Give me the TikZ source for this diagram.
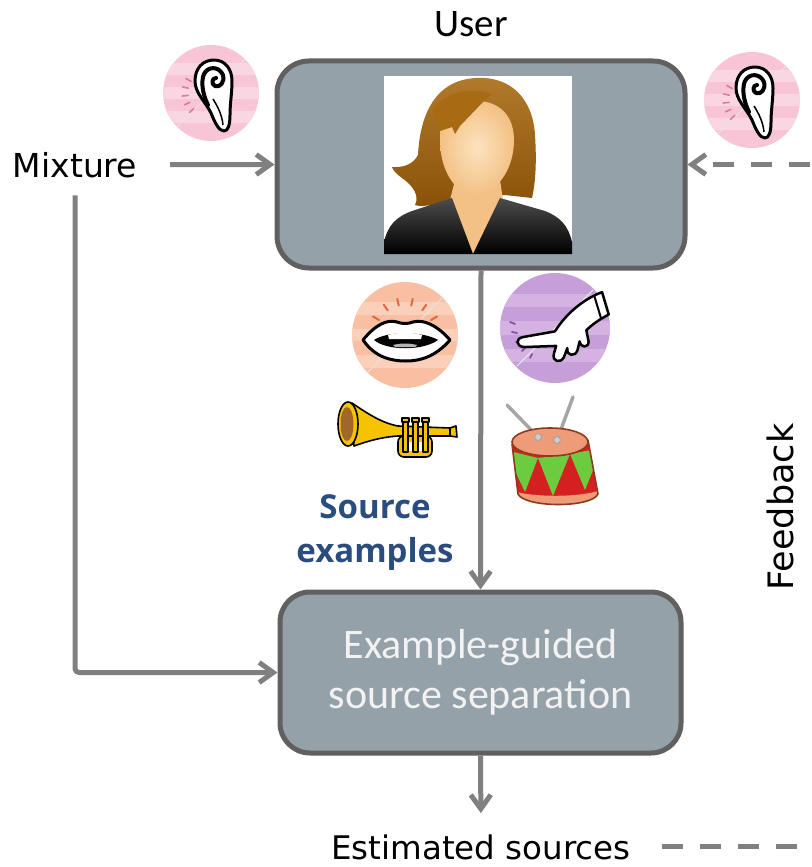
\documentclass[tikz,border=0pt]{standalone}
\usepackage{fontspec}
\setmainfont{DejaVu Sans}
\newfontfamily\carlito{Carlito}
\newfontfamily\opensans{Open Sans}
\usetikzlibrary{arrows.meta}

\definecolor{boxfill}{HTML}{95A1A9}
\definecolor{boxline}{HTML}{606060}
\definecolor{agray}{HTML}{808080}
\definecolor{srcblue}{HTML}{2A4D7D}
\definecolor{earpink}{HTML}{F7C5D5}
\definecolor{earband}{HTML}{FAD6E2}
\definecolor{earray}{HTML}{E07A98}
\definecolor{mouthpeach}{HTML}{F8BFA2}
\definecolor{mouthband}{HTML}{FBD0BA}
\definecolor{mouthray}{HTML}{E4683C}
\definecolor{handlilac}{HTML}{C79FD8}
\definecolor{handband}{HTML}{D4B2E2}
\definecolor{handray}{HTML}{8E4FA6}
\definecolor{brass}{HTML}{F5C300}
\definecolor{bellbrown}{HTML}{A0662A}
\definecolor{drumred}{HTML}{D42020}
\definecolor{drumgreen}{HTML}{6CCB3E}
\definecolor{drumskin}{HTML}{EE9C78}
\definecolor{drumedge}{HTML}{8E3A1E}
\definecolor{hair}{HTML}{A86B14}
\definecolor{hairdark}{HTML}{8A5208}
\definecolor{skin}{HTML}{F3C185}
\definecolor{skinlight}{HTML}{FCE3BF}

% round badge at the local origin, with soft horizontal bands
\newcommand\badge[3]{% radius (number), base colour, band colour
  \fill[#2] (0,0) circle[radius=#1pt];
  \begin{scope}
    \clip (0,0) circle[radius=#1pt];
    \foreach \dy in {-0.62,-0.12,0.38}{
      \fill[#3] (-#1,\dy*#1) rectangle (#1,\dy*#1+0.24*#1);
    }
  \end{scope}}

% listening ear on a pink badge
\newcommand\earicon[1]{%
  \begin{scope}[shift={#1}]
    \badge{48}{earpink}{earband}
    \draw[white!80!gray, line width=0.8pt] (-34,34) -- (34,-34);
    \foreach \a in {-150,-168,174,156,138}{
      \draw[earray, line width=1.6pt, line cap=round] (\a:23) -- (\a:29);
    }
    \filldraw[fill=white, draw=black, line width=3pt]
      (3,-33) .. controls (14,-33) and (21,-24) .. (21,-12)
      .. controls (21,0) and (19,10) .. (19,22)
      .. controls (19,32) and (17,38) .. (13,38)
      .. controls (8,38) and (4,30) .. (0,20)
      .. controls (-6,8) and (-16,0) .. (-16,-12)
      .. controls (-16,-25) and (-8,-33) .. (3,-33) -- cycle;
    \draw[black, line width=4pt, line cap=round]
      (-3,12) .. controls (-9,0) and (-10,-12) .. (-7,-19)
      .. controls (-3,-27) and (8,-27) .. (12,-18)
      .. controls (14,-11) and (9,-5) .. (4,-7)
      .. controls (0,-9) and (1,-15) .. (5,-15);
    \draw[black, line width=1.5pt] (2,6) .. controls (7,14) and (11,22) .. (12,32);
  \end{scope}}

\begin{document}
\begin{tikzpicture}[x=1pt, y=-1pt, line join=round,
  blockbox/.style={draw=boxline, line width=5pt, fill=boxfill, inner sep=0pt},
  arr/.style={draw=agray, line width=5pt, -{Straight Barb[length=14pt,width=20pt]}},
  fbline/.style={draw=agray, line width=5pt, dash pattern=on 21pt off 17pt,
                 -{Straight Barb[length=14pt,width=20pt]}},
  plain/.style={inner sep=0pt}]
\useasboundingbox (0,0) rectangle (811,867);

% ---------- blocks ----------
\node[blockbox, rounded corners=32pt, minimum width=408pt, minimum height=207pt]
  (user) at (481,164.5) {};
\node[blockbox, rounded corners=30pt, minimum width=401pt, minimum height=161pt,
      text=white!95!black, align=center,
      font=\carlito\fontsize{42pt}{50pt}\selectfont]
  (sep) at (480.5,672.5) {Example-guided\\source separation};

% ---------- labels ----------
\node[plain, anchor=base, font=\carlito\fontsize{39pt}{44pt}\selectfont]
  (userlbl) at (471,37) {User};
\node[plain, anchor=base, outer xsep=33pt, outer ysep=18pt,
      font=\fontsize{33pt}{40pt}\selectfont]
  (mix) at (75,177) {Mixture};
\node[plain, anchor=base, outer xsep=31pt,
      font=\fontsize{32.5pt}{40pt}\selectfont]
  (est) at (481,859) {Estimated sources};
\node[plain, rotate=90, font=\fontsize{35pt}{40pt}\selectfont]
  (fblbl) at (780,507) {Feedback};
\node[plain, anchor=base, align=center, text=srcblue,
      font=\opensans\bfseries\fontsize{33pt}{44pt}\selectfont]
  (srcex) at (375,562) {Source\\examples};

% ---------- user portrait ----------
\fill[white] (384,76) rectangle (572,254);
\shade[top color=hair!90!white, bottom color=hairdark]
  (476,78) .. controls (512,76) and (533,100) .. (535,135)
  .. controls (537,165) and (535,185) .. (532,198) -- (505,195) -- (450,200)
  .. controls (432,206) and (420,207) .. (415,205)
  .. controls (420,195) and (412,185) .. (402,178)
  .. controls (396,174) and (393,170) .. (392,167)
  .. controls (405,168) and (414,163) .. (418,155)
  .. controls (420,115) and (435,80) .. (476,78) -- cycle;
\fill[skin] (455,180) -- (500,180) -- (503,200) -- (473,254) -- (450,200) -- cycle;
\shade[inner color=skinlight, outer color=skin]
  (440,128) .. controls (440,104) and (458,100) .. (480,101)
  .. controls (502,103) and (514,118) .. (514,140)
  .. controls (514,166) and (500,192) .. (476,195)
  .. controls (455,195) and (440,170) .. (440,140) -- cycle;
\fill[hair] (492,94) -- (483,102) -- (460,126) -- (455,134) -- (452,127)
  -- (440,131) -- (432,110) .. controls (445,92) and (470,86) .. (492,94) -- cycle;
\shade[top color=black!70, bottom color=black]
  (384,254) -- (384,242) .. controls (388,225) and (396,217) .. (412,211)
  -- (452,198) -- (473,254) -- cycle;
\shade[top color=black!70, bottom color=black]
  (572,254) -- (572,242) .. controls (568,225) and (560,217) .. (545,211)
  -- (500,198) -- (473,254) -- cycle;

% ---------- ear badges ----------
\earicon{(211,93)}
\earicon{(752,100)}

% ---------- voice badge ----------
\begin{scope}[shift={(405,335)}]
  \badge{53}{mouthpeach}{mouthband}
  \draw[white!80!gray, line width=0.8pt] (-37,37) -- (37,-37);
  \foreach \a in {-150,-125,-102,-78,-55,-30}{
    \draw[mouthray, line width=2pt, line cap=round] (\a:30) -- (\a:37);
  }
  \filldraw[fill=white, draw=black, line width=3pt]
    (-42,5) .. controls (-30,-10) and (-18,-16) .. (-8,-13)
    .. controls (-3,-11) and (3,-11) .. (8,-13)
    .. controls (18,-16) and (32,-10) .. (45,5)
    .. controls (30,22) and (15,26) .. (1,26)
    .. controls (-15,26) and (-30,22) .. (-42,5) -- cycle;
  \fill[black] (-31,5) .. controls (-18,-4) and (18,-4) .. (33,5)
    .. controls (18,16) and (-18,16) .. (-31,5) -- cycle;
  \fill[white] (-17,0) .. controls (-6,-3) and (6,-3) .. (17,0) -- (16,4) -- (-16,4) -- cycle;
  \fill[gray!60] (-12,10) .. controls (-4,8) and (4,8) .. (12,10) -- (10,12) -- (-10,12) -- cycle;
\end{scope}

% ---------- pointing-hand badge ----------
\begin{scope}[shift={(555,328)}]
  \badge{55}{handlilac}{handband}
  \draw[white!85!gray, line width=0.8pt] (-38,38) -- (38,-38);
  \draw[handray, line width=1.8pt, line cap=round]
    (-45,-6) -- (-40,-4)  (-43,4) -- (-38,5)  (-39,14) -- (-35,13)
    (-33,23) -- (-30,20)  (-25,30) -- (-23,26);
  \begin{scope}[scale=1.12, shift={(-2,0)}]
  \filldraw[fill=white, draw=black, line width=2.5pt]
    (44,-32) -- (50,-12)
    .. controls (42,-8) and (35,-3) .. (30,2)
    -- (32,12) .. controls (32,18) and (25,18) .. (24,12)
    -- (22,20) .. controls (20,26) and (12,25) .. (13,18)
    -- (10,26) .. controls (7,32) and (-1,30) .. (1,23)
    -- (3,16) -- (-25,17) .. controls (-33,17) and (-34,9) .. (-26,8)
    -- (2,3) .. controls (10,-10) and (25,-25) .. (44,-32) -- cycle;
  \draw[black, line width=2pt] (37,-29) -- (43,-9);
  \end{scope}
\end{scope}

% ---------- trumpet ----------
\begin{scope}[draw=black, line width=1.6pt]
  \filldraw[fill=brass, rounded corners=6pt] (398,436) rectangle (432,457);
  \fill[white] (404,442) rectangle (426,451);
  \filldraw[fill=brass]
    (352,403) .. controls (368,414) and (382,423) .. (398,426) -- (450,428)
    -- (450,436) -- (398,436) .. controls (382,437) and (368,441) .. (354,446) -- cycle;
  \foreach \vx in {403,413,423}{
    \filldraw[fill=brass] (\vx,422) rectangle ++(5,30);
    \filldraw[fill=brass] (\vx-1,418) rectangle ++(7,4);
  }
  \filldraw[fill=brass] (450,428) -- (456,426) -- (457,437) -- (450,436) -- cycle;
  \filldraw[fill=brass] (348,424) ellipse[x radius=10pt, y radius=22pt];
  \fill[bellbrown] (347,424) ellipse[x radius=6.5pt, y radius=17pt];
\end{scope}

% ---------- drum ----------
\draw[gray!70, line width=3.5pt, line cap=round] (507,405) -- (538,437);
\draw[gray!70, line width=3.5pt, line cap=round] (573,397) -- (557,440);
\begin{scope}
  \clip (512,444) -- (518,494) .. controls (525,508) and (592,508) .. (598,494)
    -- (588,440) -- cycle;
  \fill[drumred] (500,430) rectangle (610,515);
  \fill[drumgreen] (505,450) -- (538,458) -- (525,492) -- cycle;
  \fill[drumgreen] (538,458) -- (570,454) -- (553,496) -- cycle;
  \fill[drumgreen] (570,454) -- (602,448) -- (585,490) -- cycle;
  \fill[drumskin] (510,490) .. controls (530,498) and (588,498) .. (605,488)
    -- (605,515) -- (510,515) -- cycle;
\end{scope}
\draw[drumedge, line width=1.6pt]
  (512,444) -- (518,494) .. controls (525,508) and (592,508) .. (598,494) -- (588,440);
\filldraw[fill=drumskin, draw=drumedge, line width=1.6pt]
  (550,442) ellipse[x radius=38pt, y radius=14pt];
\filldraw[fill=gray!40, draw=gray!70, line width=1pt] (538,437) circle[radius=3.5pt];
\filldraw[fill=gray!40, draw=gray!70, line width=1pt] (557,440) circle[radius=3.5pt];

% ---------- connectors ----------
\draw[arr] (mix.east) -- (user.west);
\draw[arr, rounded corners=4pt] (mix.south) |- (sep.west);
\draw[arr] (user.south) -- (sep.north);
\draw[arr, shorten >=21pt] (sep.south) -- (est.north);
\coordinate (fbturn) at (831.5,500);
\draw[fbline] (est.east) -| (fbturn) |- (user.east);

\end{tikzpicture}
\end{document}
